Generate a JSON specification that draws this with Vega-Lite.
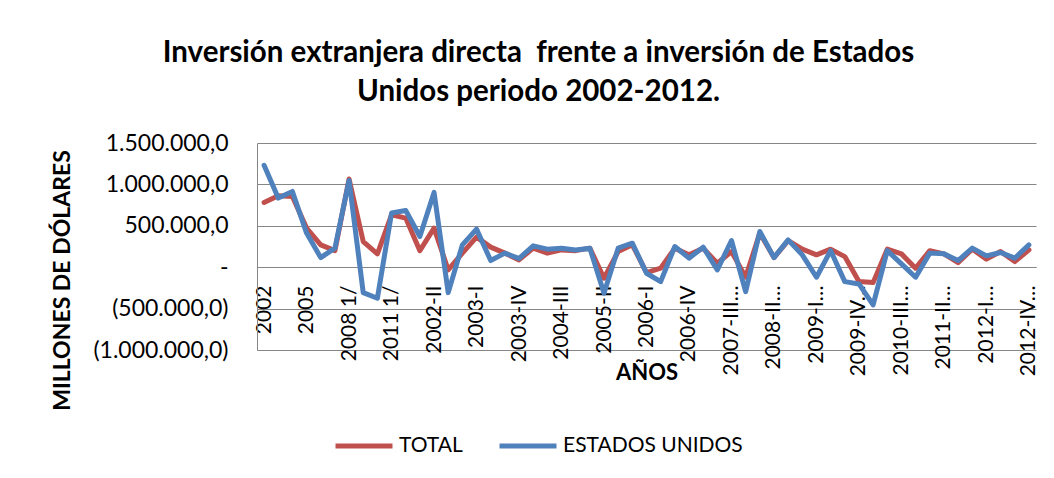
{
  "$schema": "https://vega.github.io/schema/vega-lite/v6.json",
  "width": 779,
  "height": 207,
  "autosize": "none",
  "padding": {"left": 257, "top": 143, "right": 18, "bottom": 128},
  "background": "white",
  "config": {"font": "Lato", "view": {"stroke": null}},
  "title": {
    "text": ["Inversión extranjera directa\u00a0 frente a inversión de Estados", "Unidos periodo 2002-2012."],
    "font": "Lato", "fontSize": 29.5, "fontWeight": "bold", "lineHeight": 39,
    "anchor": "middle", "frame": "group", "dx": -108, "offset": 25, "color": "black"
  },
  "data": {"values": [
    {"periodo": "2002", "TOTAL": 782000, "ESTADOS UNIDOS": 1230000},
    {"periodo": "2003", "TOTAL": 863000, "ESTADOS UNIDOS": 835000},
    {"periodo": "2004", "TOTAL": 855000, "ESTADOS UNIDOS": 915000},
    {"periodo": "2005", "TOTAL": 472000, "ESTADOS UNIDOS": 412000},
    {"periodo": "2006", "TOTAL": 270000, "ESTADOS UNIDOS": 116000},
    {"periodo": "2007", "TOTAL": 200000, "ESTADOS UNIDOS": 230000},
    {"periodo": "2008 1/", "TOTAL": 1065000, "ESTADOS UNIDOS": 1048000},
    {"periodo": "2009 1/", "TOTAL": 310000, "ESTADOS UNIDOS": -307000},
    {"periodo": "2010 1/", "TOTAL": 161000, "ESTADOS UNIDOS": -375000},
    {"periodo": "2011 1/", "TOTAL": 633000, "ESTADOS UNIDOS": 654000},
    {"periodo": "2012 1/", "TOTAL": 593000, "ESTADOS UNIDOS": 685000},
    {"periodo": "2002-I", "TOTAL": 200000, "ESTADOS UNIDOS": 370000},
    {"periodo": "2002-II", "TOTAL": 472000, "ESTADOS UNIDOS": 903000},
    {"periodo": "2002-III", "TOTAL": -33000, "ESTADOS UNIDOS": -307000},
    {"periodo": "2002-IV", "TOTAL": 170000, "ESTADOS UNIDOS": 270000},
    {"periodo": "2003-I", "TOTAL": 363000, "ESTADOS UNIDOS": 460000},
    {"periodo": "2003-II", "TOTAL": 242000, "ESTADOS UNIDOS": 80000},
    {"periodo": "2003-III", "TOTAL": 170000, "ESTADOS UNIDOS": 170000},
    {"periodo": "2003-IV", "TOTAL": 88000, "ESTADOS UNIDOS": 105000},
    {"periodo": "2004-I", "TOTAL": 230000, "ESTADOS UNIDOS": 258000},
    {"periodo": "2004-II", "TOTAL": 170000, "ESTADOS UNIDOS": 218000},
    {"periodo": "2004-III", "TOTAL": 209000, "ESTADOS UNIDOS": 230000},
    {"periodo": "2004-IV", "TOTAL": 200000, "ESTADOS UNIDOS": 209000},
    {"periodo": "2005-I", "TOTAL": 230000, "ESTADOS UNIDOS": 230000},
    {"periodo": "2005-II", "TOTAL": -133000, "ESTADOS UNIDOS": -315000},
    {"periodo": "2005-III", "TOTAL": 189000, "ESTADOS UNIDOS": 230000},
    {"periodo": "2005-IV", "TOTAL": 270000, "ESTADOS UNIDOS": 290000},
    {"periodo": "2006-I", "TOTAL": -65000, "ESTADOS UNIDOS": -73000},
    {"periodo": "2006-II", "TOTAL": -12000, "ESTADOS UNIDOS": -174000},
    {"periodo": "2006-III", "TOTAL": 230000, "ESTADOS UNIDOS": 250000},
    {"periodo": "2006-IV", "TOTAL": 149000, "ESTADOS UNIDOS": 109000},
    {"periodo": "2007-I", "TOTAL": 230000, "ESTADOS UNIDOS": 242000},
    {"periodo": "2007-II", "TOTAL": 48000, "ESTADOS UNIDOS": -33000},
    {"periodo": "2007-III 1/", "TOTAL": 189000, "ESTADOS UNIDOS": 322000},
    {"periodo": "2007-IV 1/", "TOTAL": -120000, "ESTADOS UNIDOS": -295000},
    {"periodo": "2008-I 1/", "TOTAL": 412000, "ESTADOS UNIDOS": 431000},
    {"periodo": "2008-II 1/", "TOTAL": 116000, "ESTADOS UNIDOS": 116000},
    {"periodo": "2008-III 1/", "TOTAL": 322000, "ESTADOS UNIDOS": 330000},
    {"periodo": "2008-IV 1/", "TOTAL": 218000, "ESTADOS UNIDOS": 149000},
    {"periodo": "2009-I 1/", "TOTAL": 149000, "ESTADOS UNIDOS": -121000},
    {"periodo": "2009-II 1/", "TOTAL": 218000, "ESTADOS UNIDOS": 200000},
    {"periodo": "2009-III 1/", "TOTAL": 128000, "ESTADOS UNIDOS": -174000},
    {"periodo": "2009-IV 1/", "TOTAL": -174000, "ESTADOS UNIDOS": -202000},
    {"periodo": "2010-I 1/", "TOTAL": -186000, "ESTADOS UNIDOS": -456000},
    {"periodo": "2010-II 1/", "TOTAL": 218000, "ESTADOS UNIDOS": 200000},
    {"periodo": "2010-III 1/", "TOTAL": 161000, "ESTADOS UNIDOS": 40000},
    {"periodo": "2010-IV 1/", "TOTAL": -12000, "ESTADOS UNIDOS": -121000},
    {"periodo": "2011-I 1/", "TOTAL": 200000, "ESTADOS UNIDOS": 170000},
    {"periodo": "2011-II 1/", "TOTAL": 161000, "ESTADOS UNIDOS": 161000},
    {"periodo": "2011-III 1/", "TOTAL": 56000, "ESTADOS UNIDOS": 80000},
    {"periodo": "2011-IV 1/", "TOTAL": 218000, "ESTADOS UNIDOS": 230000},
    {"periodo": "2012-I 1/", "TOTAL": 97000, "ESTADOS UNIDOS": 137000},
    {"periodo": "2012-II 1/", "TOTAL": 189000, "ESTADOS UNIDOS": 177000},
    {"periodo": "2012-III 1/", "TOTAL": 68000, "ESTADOS UNIDOS": 109000},
    {"periodo": "2012-IV 1/", "TOTAL": 209000, "ESTADOS UNIDOS": 270000}
  ]},
  "transform": [{"fold": ["TOTAL", "ESTADOS UNIDOS"], "as": ["serie", "valor"]}],
  "encoding": {
    "x": {
      "field": "periodo", "type": "ordinal", "sort": null,
      "scale": {"type": "point", "padding": 0.5},
      "axis": {
        "title": "AÑOS", "titleFontSize": 22, "titleFontWeight": "bold", "titleColor": "black",
        "titleX": 389.5, "titleY": 105, "titleAlign": "center", "titleBaseline": "middle",
        "offset": -83,
        "values": ["2002", "2005", "2008 1/", "2011 1/", "2002-II", "2003-I", "2003-IV", "2004-III", "2005-II", "2006-I", "2006-IV", "2007-III 1/", "2008-II 1/", "2009-I 1/", "2009-IV 1/", "2010-III 1/", "2011-II 1/", "2012-I 1/", "2012-IV 1/"],
        "labelExpr": "length(datum.label) > 8 ? replace(datum.label, ' 1/', '…') : datum.label",
        "labelAngle": -90, "labelAlign": "right", "labelBaseline": "middle",
        "labelPadding": 18, "labelFontSize": 21, "labelColor": "black", "labelOverlap": false, "labelLimit": 0,
        "ticks": false, "grid": false, "domain": true, "domainColor": "#868686"
      }
    },
    "y": {
      "field": "valor", "type": "quantitative",
      "scale": {"domain": [-1000000, 1500000], "nice": false, "zero": false},
      "axis": {
        "title": "MILLONES DE DÓLARES", "titleFontSize": 23, "titleFontWeight": "bold", "titleColor": "black",
        "titleX": -195, "titleY": 137, "titleAngle": -90, "titleAlign": "center", "titleBaseline": "middle",
        "values": [-1000000, -500000, 0, 500000, 1000000, 1500000],
        "labelExpr": "datum.value == 0 ? '-' : datum.value == 1500000 ? '1.500.000,0' : datum.value == 1000000 ? '1.000.000,0' : datum.value == 500000 ? '500.000,0' : datum.value == -500000 ? '(500.000,0)' : '(1.000.000,0)'",
        "labelFontSize": 23, "labelColor": "black", "labelPadding": 29, "labelBaseline": "middle",
        "ticks": false, "grid": true, "gridColor": "#868686", "gridWidth": 1, "domainColor": "#868686"
      }
    },
    "color": {
      "field": "serie", "type": "nominal",
      "scale": {"domain": ["TOTAL", "ESTADOS UNIDOS"], "range": ["#C0504D", "#4F81BD"]},
      "legend": {
        "orient": "none", "legendX": 76, "legendY": 272, "direction": "horizontal", "title": null,
        "symbolType": "stroke", "symbolSize": 3249, "symbolStrokeWidth": 5,
        "labelFontSize": 21, "labelColor": "black", "labelOffset": 4, "labelLimit": 0, "columnPadding": 26, "padding": 0
      }
    }
  },
  "layer": [
    {"transform": [{"filter": "datum.serie == 'TOTAL'"}], "mark": {"type": "line", "strokeWidth": 5, "strokeJoin": "round", "strokeCap": "round"}},
    {"transform": [{"filter": "datum.serie == 'ESTADOS UNIDOS'"}], "mark": {"type": "line", "strokeWidth": 5, "strokeJoin": "round", "strokeCap": "round"}}
  ]
}
